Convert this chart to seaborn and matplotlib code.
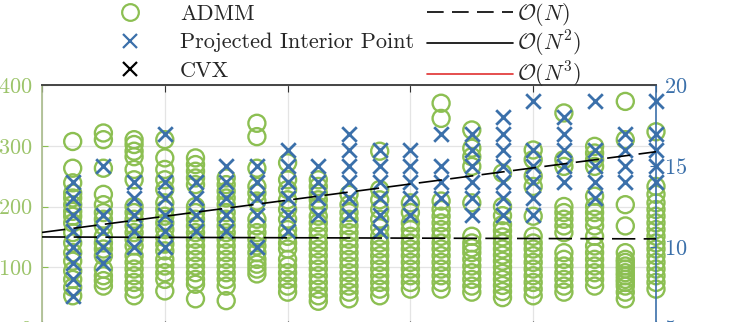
import numpy as np
import pandas as pd
import matplotlib
matplotlib.use("Agg")
import matplotlib.pyplot as plt
from matplotlib.lines import Line2D
import seaborn as sns

# ---------------- data ----------------
n_index = list(range(1, 21))

admm_values = [
    [307, 263, 239, 222, 214, 203, 192, 184, 173, 157, 140, 124, 110, 94, 80, 67, 53],
    [321, 310, 263, 220, 203, 190, 179, 168, 151, 140, 130, 119, 97, 86, 78, 69],
    [310, 302, 291, 282, 261, 244, 200, 190, 179, 168, 157, 146, 135, 119, 108, 97, 86, 75, 64, 53],
    [310, 280, 261, 244, 228, 206, 195, 184, 173, 162, 149, 138, 127, 113, 102, 91, 80, 61],
    [280, 269, 258, 247, 236, 200, 190, 179, 168, 157, 146, 135, 124, 113, 102, 91, 80, 72, 48],
    [247, 236, 225, 214, 203, 190, 179, 168, 157, 146, 135, 124, 113, 102, 91, 80, 69, 45],
    [337, 315, 263, 233, 222, 209, 179, 168, 157, 146, 135, 124, 113, 105, 97, 89],
    [272, 244, 228, 211, 195, 179, 162, 151, 140, 130, 113, 102, 91, 80, 69, 59],
    [244, 233, 222, 211, 200, 184, 173, 162, 151, 140, 130, 119, 108, 97, 86, 75, 64, 53, 44],
    [220, 203, 190, 179, 168, 157, 146, 135, 124, 113, 102, 91, 80, 69, 59, 48],
    [291, 228, 211, 195, 179, 165, 151, 140, 130, 119, 108, 97, 86, 75, 64, 53],
    [206, 190, 173, 162, 151, 140, 130, 119, 108, 97, 86, 75, 64],
    [370, 345, 209, 195, 184, 173, 162, 151, 140, 130, 119, 108, 97, 86, 75, 64],
    [326, 296, 282, 266, 206, 151, 140, 132, 124, 113, 102, 91, 80, 69, 59],
    [255, 200, 185, 170, 160, 150, 140, 130, 120, 110, 100, 90, 80, 70, 60, 50],
    [293, 277, 250, 233, 184, 151, 140, 130, 119, 108, 97, 86, 75, 64, 53],
    [354, 277, 266, 200, 190, 179, 168, 157, 124, 113, 102, 91, 80, 69, 59],
    [299, 288, 277, 266, 217, 200, 190, 179, 168, 151, 135, 124, 113, 102, 91, 80, 69],
    [373, 310, 203, 168, 124, 113, 108, 102, 97, 91, 86, 80, 75, 69, 59, 48],
    [323, 233, 220, 206, 195, 184, 173, 162, 151, 140, 130, 119, 108, 97, 86, 75, 64],
]

ip_values = [
    [14, 13, 12, 11, 10, 9, 8, 7],
    [15, 12, 11, 10, 9],
    [14, 13, 12, 11, 10],
    [17, 14, 13, 12, 11, 10],
    [14, 13, 12, 11],
    [15, 14, 13, 12, 11],
    [15, 14, 13, 12, 10],
    [16, 15, 14, 13, 12, 11],
    [15, 14, 13, 12],
    [17, 16, 15, 14, 13, 12],
    [16, 15, 14, 13, 12, 11],
    [16, 15, 14, 13, 12],
    [17, 15, 14, 13],
    [17, 16, 15, 14, 13, 12],
    [18, 17, 16, 15, 14, 13, 12],
    [19, 16, 15, 14, 13, 12],
    [18, 17, 16, 15, 14],
    [19, 16, 15, 14, 13],
    [17, 16, 15, 14],
    [19, 17, 16, 15, 14],
]

cvx_values = []          # not visible in this view (legend only)
trend_x = [0, 20]
trend_on = [10.62, 10.50]    # O(N) reference (right-axis units)
trend_on2 = [10.90, 15.88]   # O(N^2) reference (right-axis units)
trend_on3 = []               # O(N^3) not visible in this view

left_ticks = [0, 100, 200, 300, 400]
right_ticks = [5, 10, 15, 20]
x_ticks = [0, 4, 8, 12, 16, 20]

marker_labels = ["ADMM", "Projected Interior Point", "CVX"]
line_labels = [r"$\mathcal{O}(N)$", r"$\mathcal{O}(N^2)$", r"$\mathcal{O}(N^3)$"]

# ---------------- style ----------------
sns.set_style("white")
plt.rcParams["font.family"] = ["cmr10", "DejaVu Serif"]
plt.rcParams["mathtext.fontset"] = "cm"
plt.rcParams["axes.formatter.use_mathtext"] = True

GREEN = "#8cbf52"
GREEN_TXT = "#9cc46a"
BLUE = "#3b70aa"
GRID = "#e4e4e4"

admm_df = pd.DataFrame([(n, v) for n, vals in zip(n_index, admm_values) for v in vals],
                       columns=["N", "val"])
ip_df = pd.DataFrame([(n, v) for n, vals in zip(n_index, ip_values) for v in vals],
                     columns=["N", "val"])

fig = plt.figure(figsize=(7.54, 3.22), dpi=100)
ax = fig.add_axes([42 / 754, (322 - 328) / 322, 614 / 754, 243 / 322])
ax2 = ax.twinx()

sns.scatterplot(data=admm_df, x="N", y="val", ax=ax, marker="o", s=150,
                facecolor="none", edgecolor=GREEN, color=GREEN, linewidth=1.7,
                clip_on=False, legend=False, zorder=3)
sns.scatterplot(data=ip_df, x="N", y="val", ax=ax2, marker="x", s=110,
                color=BLUE, edgecolor=BLUE, linewidth=2.0,
                clip_on=False, legend=False, zorder=3)

sns.lineplot(x=trend_x, y=trend_on, ax=ax2, color="black", linewidth=1.2, zorder=4)
sns.lineplot(x=trend_x, y=trend_on2, ax=ax2, color="black", linewidth=1.2, zorder=4)
for ln in ax2.lines:
    ln.set_linestyle((0, (14, 5)))

ax.set_xlim(0, 20)
ax.set_ylim(0, 400)
ax2.set_ylim(5, 20)
ax.set_xticks(x_ticks)
ax.set_yticks(left_ticks)
ax2.set_yticks(right_ticks)
ax.set_xlabel("")
ax.set_ylabel("")
ax2.set_ylabel("")
ax.grid(True, color=GRID, linewidth=0.9)
ax2.grid(False)
ax.set_axisbelow(True)

ax.tick_params(axis="x", top=True, bottom=True, direction="in", length=5,
               color="#333333", labelbottom=False)
ax.tick_params(axis="y", left=True, direction="in", length=4, color=GREEN,
               labelcolor=GREEN_TXT, labelsize=16, pad=7)
ax2.tick_params(axis="y", right=True, direction="in", length=4, color=BLUE,
                labelcolor=BLUE, labelsize=16, pad=6)

for a in (ax, ax2):
    a.spines["top"].set_color("#444444")
    a.spines["left"].set_color("#a8bb8a")
    a.spines["right"].set_color(BLUE)
    for s in a.spines.values():
        s.set_linewidth(1.2)
ax2.spines["left"].set_visible(False)
ax.spines["right"].set_visible(False)

# legend (two columns placed separately)
marker_handles = [
    Line2D([], [], linestyle="none", marker="o", markersize=12, markerfacecolor="none",
           markeredgecolor=GREEN, markeredgewidth=1.6),
    Line2D([], [], linestyle="none", marker="x", markersize=10, color=BLUE, markeredgewidth=1.6),
    Line2D([], [], linestyle="none", marker="x", markersize=10, color="black", markeredgewidth=1.6),
]
line_handles = [
    Line2D([], [], color="black", linewidth=1.2, linestyle=(0, (10, 5))),
    Line2D([], [], color="black", linewidth=1.2),
    Line2D([], [], color="#e03030", linewidth=1.2),
]
fig.legend(marker_handles, marker_labels, loc="upper left",
           bbox_to_anchor=(85.5 / 754, 1.0 - 4 / 322), frameon=False, fontsize=16,
           handlelength=4.0, handletextpad=0.25, labelspacing=0.415,
           borderaxespad=0, borderpad=0)
fig.legend(line_handles, line_labels, loc="upper left",
           bbox_to_anchor=(427 / 754, 1.0 - 1 / 322), frameon=False, fontsize=16,
           handlelength=3.87, handletextpad=0.18, labelspacing=0.05,
           borderaxespad=0, borderpad=0)

fig.savefig("out.png", dpi=100)
